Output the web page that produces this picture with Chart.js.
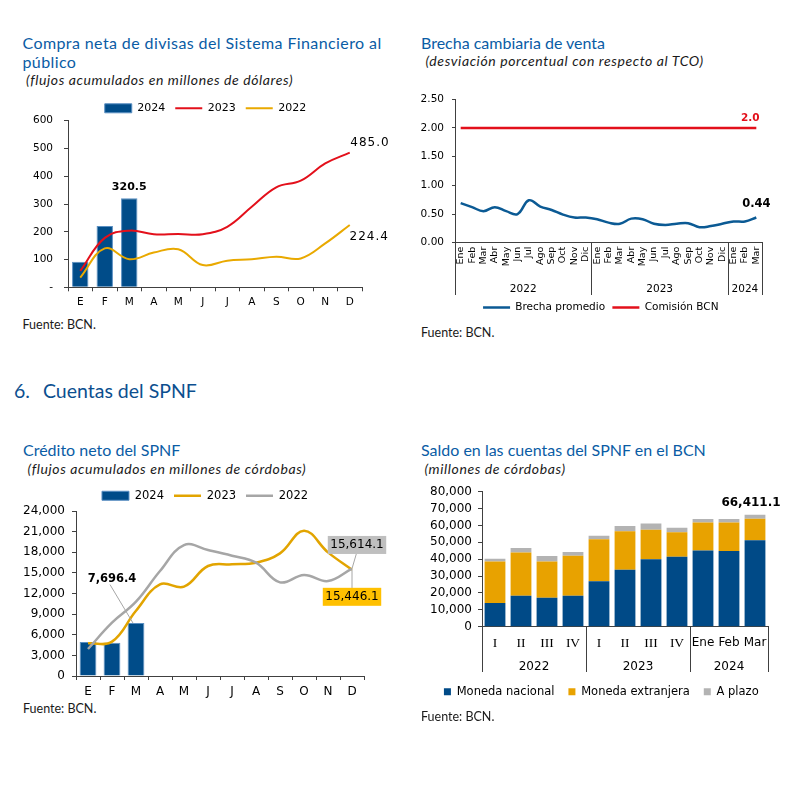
<!DOCTYPE html>
<html lang="es">
<head>
<meta charset="utf-8">
<title>Divisas, brecha cambiaria y cuentas del SPNF</title>
<script src="https://cdn.jsdelivr.net/npm/chart.js@4.4.1/dist/chart.umd.min.js"></script>
<style>
  body { margin: 0; background: #fff; }
  #page { position: relative; width: 790px; height: 800px; overflow: hidden; font-family: Lato, sans-serif; }
  .t { position: absolute; white-space: nowrap; line-height: 1.2; }
  .title { font-size: 16px; color: #0a5ca5; }
  .sub { font-size: 14px; letter-spacing: 0.6px; font-style: italic; color: #1a1a1a; }
  .src { font-size: 12.5px; color: #1a1a1a; }
  .section { font-size: 19.5px; color: #0c4f8f; }
  .box { position: absolute; }
</style>
</head>
<body>
<div id="page">
  <div class="t title" style="left:22.5px; top:33.2px; line-height:19.3px; letter-spacing:0.4px;">Compra neta de divisas del Sistema Financiero al<br>público</div>
  <div class="t sub" style="left:26px; top:72.2px;">(flujos acumulados en millones de dólares)</div>
  <div class="box" style="left:0; top:88px; width:395px; height:224px;"><canvas id="c1"></canvas></div>
  <div class="t src" style="left:22.5px; top:317px;">Fuente: BCN.</div>

  <div class="t title" style="left:421px; top:32.7px;">Brecha cambiaria de venta</div>
  <div class="t sub" style="left:425.5px; top:52.9px;">(desviación porcentual con respecto al TCO)</div>
  <div class="box" style="left:400px; top:85px; width:390px; height:240px;"><canvas id="c2"></canvas></div>
  <div class="t src" style="left:421px; top:325px;">Fuente: BCN.</div>

  <div class="t section" style="left:14px; top:379px;">6.<span style="padding-left:13px;">Cuentas del SPNF</span></div>

  <div class="t title" style="left:23px; top:440.2px;">Crédito neto del SPNF</div>
  <div class="t sub" style="left:27.5px; top:461.2px;">(flujos acumulados en millones de córdobas)</div>
  <div class="box" style="left:0; top:475px; width:395px; height:225px;"><canvas id="c3"></canvas></div>
  <div class="t src" style="left:23px; top:701px;">Fuente: BCN.</div>

  <div class="t title" style="left:421px; top:439.9px;">Saldo en las cuentas del SPNF en el BCN</div>
  <div class="t sub" style="left:424.5px; top:461.2px;">(millones de córdobas)</div>
  <div class="box" style="left:400px; top:470px; width:390px; height:240px;"><canvas id="c4"></canvas></div>
  <div class="t src" style="left:421px; top:708.7px;">Fuente: BCN.</div>
</div>

<script>
// ---- data ----
const months = ["E", "F", "M", "A", "M", "J", "J", "A", "S", "O", "N", "D"];

// compra neta de divisas (millones de dólares)
const divisas2024 = [92, 221, 320.5];
const divisas2023 = [59, 178, 204, 191, 192, 191, 218, 290, 360, 384, 446, 485.0];
const divisas2022 = [35, 140, 101, 125, 137, 80, 96, 101, 110, 104, 158, 224.4];

// brecha cambiaria (%)
const brechaMeses = [
  "Ene", "Feb", "Mar", "Abr", "May", "Jun", "Jul", "Ago", "Sep", "Oct", "Nov", "Dic",
  "Ene", "Feb", "Mar", "Abr", "May", "Jun", "Jul", "Ago", "Sep", "Oct", "Nov", "Dic",
  "Ene", "Feb", "Mar",
];
const brechaYears = ["2022", "2023", "2024"];
const brechaSpans = [12, 12, 3];
const brechaPromedio = [
  0.69, 0.62, 0.55, 0.62, 0.55, 0.50, 0.74, 0.63, 0.57, 0.49, 0.44, 0.44,
  0.41, 0.35, 0.33, 0.42, 0.41, 0.33, 0.31, 0.33, 0.34, 0.27, 0.29, 0.33,
  0.37, 0.37, 0.44,
];
const comisionBCN = [
  2.0, 2.0, 2.0, 2.0, 2.0, 2.0, 2.0, 2.0, 2.0, 2.0, 2.0, 2.0,
  2.0, 2.0, 2.0, 2.0, 2.0, 2.0, 2.0, 2.0, 2.0, 2.0, 2.0, 2.0,
  2.0, 2.0, 2.0,
];

// credito neto del SPNF (millones de córdobas)
const credito2024 = [4950, 4850, 7696.4];
const credito2023 = [4750, 5000, 9500, 13330, 12990, 16000, 16240, 16480, 17840, 21130, 17980, 15446.1];
const credito2022 = [3930, 7750, 10810, 15270, 19050, 18320, 17500, 16480, 13620, 14690, 13810, 15614.1];

// saldo en las cuentas del SPNF en el BCN
const saldoCat = ["I", "II", "III", "IV", "I", "II", "III", "IV", "Ene", "Feb", "Mar"];
const saldoYears = ["2022", "2023", "2024"];
const saldoSpans = [4, 4, 3];
const monedaNacional = [14000, 18400, 17200, 18400, 26900, 33800, 39900, 41500, 45100, 44900, 51200];
const monedaExtranjera = [24700, 25500, 21500, 23700, 24900, 22700, 17600, 14400, 16600, 16800, 12800];
const aPlazo = [1600, 2700, 3200, 2200, 2100, 3200, 3700, 2800, 2100, 2100, 2411.1];

// ---- common settings ----
const axisColor = "#404040";
const sans = '"DejaVu Sans", Verdana, sans-serif';
Chart.defaults.font.family = sans;
Chart.defaults.color = "#000";

const fmt1 = (v) => v.toLocaleString("en-US", { minimumFractionDigits: 1, maximumFractionDigits: 1 });
const fmtInt = (v) => v.toLocaleString("en-US");

// legend: bars as boxes, lines as short strokes, kept in dataset order
function legendItems(chart) {
  const items = Chart.defaults.plugins.legend.labels.generateLabels(chart);
  items.forEach((it) => {
    const ds = chart.data.datasets[it.datasetIndex];
    const isLine = ds.type === "line" || (!ds.type && chart.config.type === "line");
    it.pointStyle = isLine ? "line" : "rect";
  });
  return items;
}
const byIndex = (a, b) => a.datasetIndex - b.datasetIndex;

// move the legend sideways (it is centred on the whole canvas otherwise)
function legendShift(dx) {
  return {
    id: "legendShift",
    afterLayout(chart) {
      chart.legend.left += dx;
      chart.legend.right += dx;
    },
  };
}

// text labels anchored to chart elements
function labelsPlugin(items) {
  return {
    id: "valueLabels",
    afterDatasetsDraw(chart) {
      const ctx = chart.ctx;
      items.forEach((it) => {
        const el = chart.getDatasetMeta(it.ds).data[it.i];
        if (!el) return;
        const x = el.x + it.dx;
        const y = el.y + it.dy;
        ctx.save();
        if (it.line) {
          ctx.strokeStyle = "#a6a6a6";
          ctx.lineWidth = 1;
          ctx.beginPath();
          ctx.moveTo(el.x + it.line[0], el.y + it.line[1]);
          ctx.lineTo(el.x + it.line[2], el.y + it.line[3]);
          ctx.stroke();
        }
        ctx.font = it.font;
        if (it.spacing) ctx.letterSpacing = it.spacing;
        ctx.textAlign = it.align || "center";
        ctx.textBaseline = "middle";
        if (it.box) {
          const w = ctx.measureText(it.text).width + 5;
          ctx.fillStyle = it.box;
          ctx.fillRect(x - w / 2, y - 9, w, 18);
        }
        ctx.fillStyle = it.color || "#000";
        ctx.fillText(it.text, x, y);
        ctx.restore();
      });
    },
  };
}

// year groups under a category axis, with separators
function yearGroupsPlugin(labels, spans, font, textOffset) {
  return {
    id: "yearGroups",
    afterDraw(chart) {
      const xs = chart.scales.x;
      const ctx = chart.ctx;
      const half = (xs.getPixelForValue(1) - xs.getPixelForValue(0)) / 2;
      const top = chart.chartArea.bottom;
      const bottom = xs.bottom;
      ctx.save();
      ctx.strokeStyle = axisColor;
      ctx.lineWidth = 1;
      ctx.font = font;
      ctx.fillStyle = "#000";
      ctx.textAlign = "center";
      ctx.textBaseline = "middle";
      let start = 0;
      labels.forEach((label, k) => {
        const end = start + spans[k] - 1;
        const left = xs.getPixelForValue(start) - half;
        const right = xs.getPixelForValue(end) + half;
        const edges = k === labels.length - 1 ? [left, right] : [left];
        edges.forEach((px) => {
          const p = Math.round(px) + 0.5;
          ctx.beginPath();
          ctx.moveTo(p, top);
          ctx.lineTo(p, bottom);
          ctx.stroke();
        });
        ctx.fillText(label, (left + right) / 2, bottom - textOffset);
        start = end + 1;
      });
      ctx.restore();
    },
  };
}

// ---- 1. compra neta de divisas ----
new Chart(document.getElementById("c1"), {
  type: "bar",
  data: {
    labels: months,
    datasets: [
      { label: "2024", data: divisas2024, backgroundColor: "#004c89", borderColor: "#5a8fc2", borderWidth: 1,
        barPercentage: 0.67, categoryPercentage: 1, order: 3 },
      { type: "line", label: "2023", data: divisas2023, borderColor: "#e3101b", borderWidth: 2,
        pointRadius: 0, tension: 0.4, order: 1 },
      { type: "line", label: "2022", data: divisas2022, borderColor: "#e9a900", borderWidth: 2,
        pointRadius: 0, tension: 0.4, order: 2 },
    ],
  },
  options: {
    responsive: true,
    maintainAspectRatio: false,
    animation: false,
    layout: { padding: { left: 0, right: 33, top: 4.8, bottom: 0.7 } },
    plugins: {
      legend: {
        maxHeight: 27.9,
        labels: { usePointStyle: true, pointStyleWidth: 27, boxHeight: 9, padding: 10,
          font: { size: 11 }, generateLabels: legendItems, sort: byIndex },
      },
      tooltip: { enabled: false },
    },
    scales: {
      x: {
        grid: { drawOnChartArea: false, tickLength: 4, color: axisColor, offset: true },
        border: { color: axisColor },
        ticks: { padding: 4.7, maxRotation: 0, font: { size: 10.5 } },
        afterFit: (s) => { s.height = 24; },
      },
      y: {
        min: 0, max: 600,
        grid: { drawOnChartArea: false, tickLength: 4, color: axisColor },
        border: { color: axisColor },
        ticks: { stepSize: 100, padding: 11, font: { size: 10.5 }, callback: (v) => (v === 0 ? "-" : v) },
        afterFit: (s) => { s.width = 68; },
      },
    },
  },
  plugins: [
    legendShift(24.5),
    labelsPlugin([
      { ds: 0, i: 2, text: fmt1(divisas2024[2]), dx: 0, dy: -11, font: "bold 11px " + sans },
      { ds: 1, i: 11, text: fmt1(divisas2023[11]), dx: 0.5, dy: -9.5, align: "left", font: "12px " + sans, spacing: "1px" },
      { ds: 2, i: 11, text: fmt1(divisas2022[11]), dx: -0.2, dy: 11.7, align: "left", font: "12px " + sans, spacing: "1px" },
    ]),
  ],
});

// ---- 2. brecha cambiaria ----
new Chart(document.getElementById("c2"), {
  type: "line",
  data: {
    labels: brechaMeses,
    datasets: [
      { label: "Brecha promedio", data: brechaPromedio, borderColor: "#0b5a94", borderWidth: 2.5,
        pointRadius: 0, tension: 0.4 },
      { label: "Comisión BCN", data: comisionBCN, borderColor: "#e3101b", borderWidth: 2.5, pointRadius: 0 },
    ],
  },
  options: {
    responsive: true,
    maintainAspectRatio: false,
    animation: false,
    layout: { padding: { left: 0, right: 28, top: 12.3, bottom: 2.25 } },
    plugins: {
      legend: {
        position: "bottom",
        labels: { usePointStyle: true, pointStyleWidth: 27, padding: 7.25, font: { size: 10.5 },
          generateLabels: legendItems, sort: byIndex },
      },
      tooltip: { enabled: false },
    },
    scales: {
      x: {
        offset: true,
        grid: { display: false, drawTicks: false },
        border: { color: axisColor },
        ticks: { autoSkip: false, minRotation: 90, maxRotation: 90, padding: 4, font: { size: 9.5 } },
        afterFit: (s) => { s.height = 52.3; },
      },
      y: {
        min: 0, max: 2.5,
        grid: { drawOnChartArea: false, tickLength: 3, color: axisColor },
        border: { color: axisColor },
        ticks: { stepSize: 0.5, padding: 8, font: { size: 10.5 }, callback: (v) => v.toFixed(2) },
        afterFit: (s) => { s.width = 55; },
      },
    },
  },
  plugins: [
    legendShift(19.8),
    labelsPlugin([
      { ds: 1, i: 26, text: comisionBCN[26].toFixed(1), dx: -6, dy: -10, color: "#e3101b", font: "bold 10.5px " + sans },
      { ds: 0, i: 26, text: brechaPromedio[26].toFixed(2), dx: 0, dy: -13, font: "bold 11.5px " + sans },
    ]),
    yearGroupsPlugin(brechaYears, brechaSpans, "10.5px " + sans, 5.5),
  ],
});

// ---- 3. credito neto del SPNF ----
new Chart(document.getElementById("c3"), {
  type: "bar",
  data: {
    labels: months,
    datasets: [
      { label: "2024", data: credito2024, backgroundColor: "#004c89", borderColor: "#5a8fc2", borderWidth: 1,
        barPercentage: 0.7, categoryPercentage: 1, order: 3 },
      { type: "line", label: "2023", data: credito2023, borderColor: "#e2a400", borderWidth: 2.5,
        pointRadius: 0, tension: 0.4, order: 2 },
      { type: "line", label: "2022", data: credito2022, borderColor: "#a6a6a6", borderWidth: 2.5,
        pointRadius: 0, tension: 0.4, order: 1 },
    ],
  },
  options: {
    responsive: true,
    maintainAspectRatio: false,
    animation: false,
    layout: { padding: { left: 0, right: 31, top: 5, bottom: 0 } },
    plugins: {
      legend: {
        maxHeight: 31,
        labels: { usePointStyle: true, pointStyleWidth: 27, boxHeight: 9, padding: 10,
          font: { size: 11.5 }, generateLabels: legendItems, sort: byIndex },
      },
      tooltip: { enabled: false },
    },
    scales: {
      x: {
        grid: { drawOnChartArea: false, tickLength: 4, color: axisColor, offset: true },
        border: { color: axisColor },
        ticks: { padding: 5.1, maxRotation: 0, font: { size: 12 } },
        afterFit: (s) => { s.height = 24; },
      },
      y: {
        min: 0, max: 24000,
        grid: { drawOnChartArea: false, tickLength: 4, color: axisColor },
        border: { color: axisColor },
        ticks: { stepSize: 3000, autoSkip: false, padding: 7, font: { size: 12 }, callback: fmtInt },
        afterFit: (s) => { s.width = 76; },
      },
    },
  },
  plugins: [
    legendShift(23),
    labelsPlugin([
      { ds: 0, i: 2, text: fmt1(credito2024[2]), dx: -24, dy: -44, line: [-26, -38.5, -3, 0], font: "bold 11.5px " + sans },
      { ds: 2, i: 11, text: fmt1(credito2022[11]), dx: 5, dy: -23.7, line: [4.3, -14.7, 0, 0], box: "#bfbfbf", font: "12px " + sans },
      { ds: 1, i: 11, text: fmt1(credito2023[11]), dx: 0, dy: 27, line: [0, 0, 0, 18.5], box: "#ffc000", font: "12px " + sans },
    ]),
  ],
});

// ---- 4. saldo en las cuentas del SPNF ----
new Chart(document.getElementById("c4"), {
  type: "bar",
  data: {
    labels: saldoCat,
    datasets: [
      { label: "Moneda nacional", data: monedaNacional, backgroundColor: "#004a87" },
      { label: "Moneda extranjera", data: monedaExtranjera, backgroundColor: "#e8a200" },
      { label: "A plazo", data: aPlazo, backgroundColor: "#b3b3b3" },
    ],
  },
  options: {
    responsive: true,
    maintainAspectRatio: false,
    animation: false,
    datasets: { bar: { barPercentage: 0.8, categoryPercentage: 1 } },
    layout: { padding: { left: 0, right: 22, top: 21.7, bottom: 2.5 } },
    plugins: {
      legend: {
        position: "bottom",
        labels: { usePointStyle: true, pointStyleWidth: 7, boxHeight: 7, padding: 14,
          font: { size: 11.5 }, generateLabels: legendItems, sort: byIndex },
      },
      tooltip: { enabled: false },
    },
    scales: {
      x: {
        stacked: true,
        grid: { display: false, drawTicks: false },
        border: { color: axisColor },
        ticks: {
          padding: 8.8,
          maxRotation: 0,
          font: (c) => (/^[IV]+$/.test(saldoCat[c.index])
            ? { family: '"Liberation Serif", "Times New Roman", serif', size: 13.5 }
            : { size: 12 }),
        },
        afterFit: (s) => { s.height = 45.3; },
      },
      y: {
        stacked: true,
        min: 0, max: 80000,
        grid: { drawOnChartArea: false, tickLength: 4, color: axisColor },
        border: { color: axisColor },
        ticks: { stepSize: 10000, autoSkip: false, padding: 6, font: { size: 12 }, callback: fmtInt },
        afterFit: (s) => { s.width = 82; },
      },
    },
  },
  plugins: [
    legendShift(17.3),
    labelsPlugin([
      { ds: 2, i: 10, text: fmt1(monedaNacional[10] + monedaExtranjera[10] + aPlazo[10]), dx: -4, dy: -12,
        font: "bold 12px " + sans },
    ]),
    yearGroupsPlugin(saldoYears, saldoSpans, "12px " + sans, 5),
  ],
});
</script>
</body>
</html>
